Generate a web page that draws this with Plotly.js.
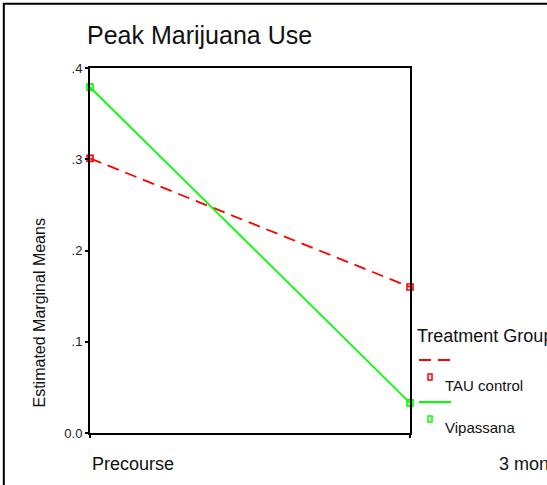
<!DOCTYPE html>
<html>
<head>
<meta charset="utf-8">
<script src="https://cdn.plot.ly/plotly-3.0.1.min.js"></script>
<style>html,body{margin:0;padding:0;background:#fff;}#chart{width:547px;height:485px;}</style>
</head>
<body>
<div id="chart"></div>
<script>
// ---- data ----
const chartTitle = "Peak Marijuana Use";
const yAxisTitle = "Estimated Marginal Means";
const legendTitle = "Treatment Group";
const timePoints = ["Precourse", "3 months"];
const seriesNames = ["TAU control", "Vipassana"];
const tauControl = [0.301, 0.160];
const vipassana = [0.379, 0.033];
const yTickVals = [0, 0.1, 0.2, 0.3, 0.4];
const yTickText = ["0.0", ".1", ".2", ".3", ".4"];
const seriesColors = ["#ff0000", "#00ff00"];
const seriesDash = ["12px,7px", "solid"];

const FONT = "Liberation Sans, Arial, sans-serif";

// plot area in pixels: left 90, right 410, top 68, bottom 433
const L = 90, R = 410, T = 68, B = 433;
const px = v => (v - L) / (R - L);
const py = v => (B - v) / (B - T);

const seriesValues = [tauControl, vipassana];
const traces = seriesValues.map((vals, i) => ({
  type: "scatter",
  mode: "lines+markers",
  x: timePoints,
  y: vals,
  name: seriesNames[i],
  line: {color: seriesColors[i], width: 1.8, dash: seriesDash[i]},
  marker: {symbol: "square-open", size: 6, color: seriesColors[i], line: {width: 1.6, color: seriesColors[i]}},
  cliponaxis: false,
  showlegend: false
}));

const annotations = [
  {text: yAxisTitle, xref: "paper", yref: "paper", x: px(38.5), y: py(313), textangle: -90,
   showarrow: false, font: {family: FONT, size: 16, color: "#111"}, xanchor: "center", yanchor: "middle"},
  {text: timePoints[0], xref: "paper", yref: "paper", x: px(90), y: py(464), showarrow: false,
   xanchor: "left", yanchor: "middle", font: {family: FONT, size: 18, color: "#111"}},
  {text: timePoints[1], xref: "paper", yref: "paper", x: px(497), y: py(464), showarrow: false,
   xanchor: "left", yanchor: "middle", font: {family: FONT, size: 18, color: "#111"}},
  {text: legendTitle, xref: "paper", yref: "paper", x: px(415), y: py(336), showarrow: false,
   xanchor: "left", yanchor: "middle", font: {family: FONT, size: 18, color: "#111"}},
  {text: seriesNames[0], xref: "paper", yref: "paper", x: px(443), y: py(385), showarrow: false,
   xanchor: "left", yanchor: "middle", font: {family: FONT, size: 15, color: "#111"}},
  {text: seriesNames[1], xref: "paper", yref: "paper", x: px(443), y: py(427), showarrow: false,
   xanchor: "left", yanchor: "middle", font: {family: FONT, size: 15, color: "#111"}}
];

const legendLineY = [360, 402];
const legendMarkY = [377, 419];
const shapes = [
  // outer border (left and top)
  {type: "line", xref: "paper", yref: "paper", x0: px(3.8), x1: px(3.8), y0: py(3), y1: py(495), line: {color: "#000", width: 2}},
  {type: "line", xref: "paper", yref: "paper", x0: px(3), x1: px(560), y0: py(3.8), y1: py(3.8), line: {color: "#000", width: 2}}
];
seriesNames.forEach((n, i) => {
  shapes.push({type: "line", xref: "paper", yref: "paper", x0: px(419), x1: px(451), y0: py(legendLineY[i]), y1: py(legendLineY[i]),
    line: {color: seriesColors[i], width: 2, dash: seriesDash[i] === "solid" ? "solid" : "12px,7px"}});
  shapes.push({type: "rect", xref: "paper", yref: "paper", xsizemode: "pixel", ysizemode: "pixel",
    xanchor: px(430), yanchor: py(legendMarkY[i]), x0: -2, x1: 2, y0: -3, y1: 3,
    line: {color: seriesColors[i], width: 1.5}, fillcolor: "rgba(0,0,0,0)"});
});

const layout = {
  width: 547, height: 485,
  margin: {l: L, r: 547 - R, t: T, b: 485 - B, pad: 0},
  paper_bgcolor: "#fff", plot_bgcolor: "#fff",
  font: {family: FONT, color: "#111"},
  showlegend: false,
  title: {text: chartTitle, xref: "container", yref: "container", x: 87 / 547, xanchor: "left",
    y: 1 - 35 / 485, yanchor: "middle", font: {family: FONT, size: 25, color: "#111"}},
  xaxis: {type: "category", range: [0, 1], showgrid: false, zeroline: false, showline: true, mirror: true,
    linecolor: "#000", linewidth: 2, ticks: "outside", ticklen: 3, tickwidth: 2, tickcolor: "#000",
    showticklabels: false, fixedrange: true},
  yaxis: {range: [0, 0.4], showgrid: false, zeroline: false, showline: true, mirror: true,
    linecolor: "#000", linewidth: 2, ticks: "outside", ticklen: 3, tickwidth: 2, tickcolor: "#000",
    tickvals: yTickVals, ticktext: yTickText, tickfont: {family: FONT, size: 13, color: "#222"}, fixedrange: true},
  annotations: annotations,
  shapes: shapes
};

Plotly.newPlot("chart", traces, layout, {staticPlot: true, displayModeBar: false});
</script>
</body>
</html>
